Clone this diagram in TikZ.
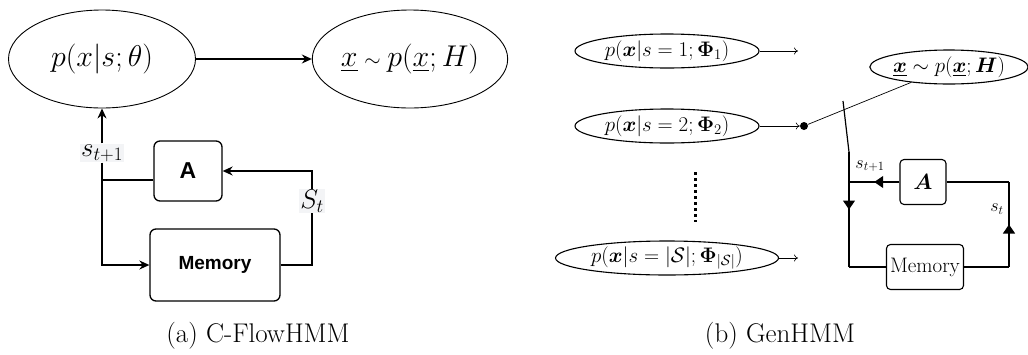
\RequirePackage{fix-cm}
\documentclass[tikz,border=0pt]{standalone}
\usepackage{amsmath,amssymb}
\usepackage{fontspec}
\usetikzlibrary{positioning,arrows.meta,shapes.geometric,decorations.markings}
\newfontfamily\drawfont{Liberation Sans}
\definecolor{lblbg}{HTML}{F3F4F6}

\begin{document}
\begin{tikzpicture}[x=1pt,y=-1pt,
  bigell/.style={draw,ellipse,line width=0.9pt,inner sep=0pt,minimum width=187pt,minimum height=98pt,font=\fontsize{30}{34}\selectfont},
  smell/.style={draw,ellipse,line width=1.1pt,inner sep=0pt,minimum width=184pt,minimum height=34pt,font=\fontsize{21}{24}\selectfont},
  dbox/.style={draw,line width=1.3pt,rounded corners=6pt,inner sep=0pt,font=\drawfont\bfseries},
  rbox/.style={draw,line width=1.1pt,rounded corners=4pt,inner sep=0pt,minimum height=45pt},
  lbl/.style={fill=lblbg,inner sep=1pt,font=\fontsize{27}{30}\selectfont},
  lar/.style={line width=1.3pt,-{Stealth[length=10pt,width=9pt]}},
  sar/.style={line width=0.6pt,-{To[length=4pt,width=7pt]}},
  loop/.style={line width=1.2pt},
  midarr/.style={loop,postaction={decorate},decoration={markings,mark=at position 0.5 with {\arrow{Triangle[length=9pt,width=12pt]}}}}]
  \useasboundingbox (0,0) rectangle (1028,354);

  % (a) C-FlowHMM
  \node[bigell] (pl) at (102,59) {$p(x|s;\theta)$};
  \node[bigell] (xl) at (410,59) {$\underline{x}\mathbin{\scriptstyle\sim}p(\underline{x};H)$};
  \draw[lar] (pl) -- (xl);
  \node[lbl] (st1) at (102,153) {$s_{t+1}$};
  \node[dbox,minimum width=68pt,minimum height=60pt,font=\drawfont\bfseries\fontsize{23}{26}\selectfont] (A) at (188,171) {A};
  \node[dbox,minimum width=130pt,minimum height=72pt,font=\drawfont\bfseries\fontsize{19}{22}\selectfont] (mem) at (215,265) {Memory};
  \node[lbl] (St) at (312,201) {$S_t$};
  \draw[lar] (st1.north) -- (st1.north |- pl.south);
  \draw[lar] (st1.south) |- (mem.west);
  \draw[line width=1.3pt] ([yshift=-9pt]A.west) -- ([yshift=-9pt]A.west -| st1.south);
  \draw[line width=1.3pt] (mem.east) -| (St.south);
  \draw[lar] (St.north) |- (A.east);

  % (b) GenHMM
  \node[smell] (p1) at (667,51) {$p(\boldsymbol{x}|s=1;\boldsymbol{\Phi}_1)$};
  \node[smell] (p2) at (667,126) {$p(\boldsymbol{x}|s=2;\boldsymbol{\Phi}_2)$};
  \node[smell,minimum width=223pt] (pS) at (667,258) {$p(\boldsymbol{x}|s=|\mathcal{S}|;\boldsymbol{\Phi}_{|\mathcal{S}|})$};
  \draw[line width=3pt,dash pattern=on 3pt off 3pt] (695,172) -- (695,222);
  \coordinate (e1) at (798,51);
  \coordinate (e3) at (798,258);
  \node[circle,fill,inner sep=0pt,minimum size=8pt] (dot) at (804,126) {};
  \draw[sar] (p1) -- (e1);
  \draw[sar] (pS) -- (e3);
  \draw[sar] (p2) -- (dot.west);
  \node[smell,minimum width=154pt] (xH) at (949,67) {$\underline{\boldsymbol{x}}\sim p(\underline{\boldsymbol{x}};\boldsymbol{H})$};
  \draw[line width=0.7pt] (dot) -- (xH);

  \node[rbox,minimum width=46pt,font=\fontsize{22}{25}\selectfont] (Ar) at (923,182) {$\boldsymbol{A}$};
  \node[rbox,minimum width=77pt,font=\fontsize{21}{24}\selectfont] (memr) at (925,267) {Memory};
  \coordinate (sw) at (843,101);
  \coordinate (pv) at (849,152);
  \coordinate (rc) at (1009,182);
  \draw[loop] (sw) -- (pv);
  \draw[midarr] (pv) -- (pv |- memr.west);
  \draw[loop] (pv |- memr.west) -- (memr.west);
  \draw[midarr] (Ar.west) -- (Ar.west -| pv);
  \draw[loop] (memr.east) -- (memr.east -| rc);
  \draw[midarr] (memr.east -| rc) -- (rc);
  \draw[loop] (rc) -- (Ar.east);
  \node[font=\fontsize{18}{20}\selectfont] (s1r) at (870,166) {$s_{t+1}$};
  \node[font=\fontsize{18}{20}\selectfont] (str) at (997,209) {$s_t$};

  % captions
  \node[font=\fontsize{27}{30}\selectfont] (capa) at (258,336) {(a) C-FlowHMM};
  \node[font=\fontsize{27}{30}\selectfont] (capb) at (780,336) {(b) GenHMM};
\end{tikzpicture}
\end{document}
